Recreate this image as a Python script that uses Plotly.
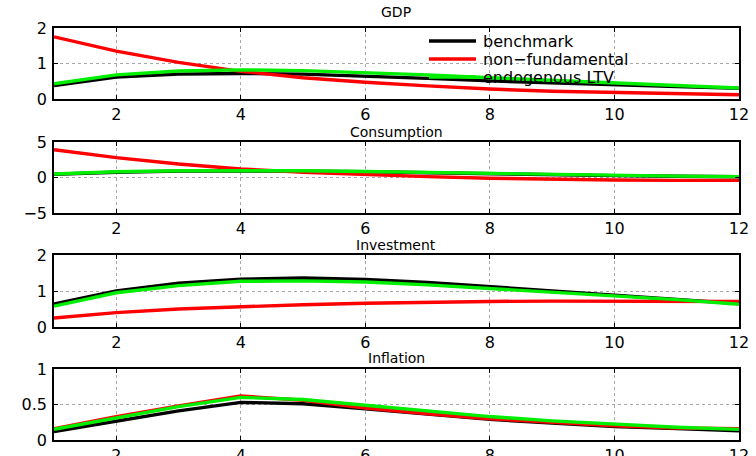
import plotly.graph_objects as go

# Impulse responses, horizons 1..12
horizon = list(range(1, 13))
series_names = ["benchmark", "non\u2212fundamental", "endogenous LTV"]
series_colors = ["#000000", "#ff0000", "#00ee00"]

gdp_bench = [0.38, 0.62, 0.70, 0.72, 0.70, 0.65, 0.58, 0.51, 0.45, 0.40, 0.35, 0.30]
gdp_nonfund = [1.75, 1.35, 1.03, 0.78, 0.60, 0.47, 0.37, 0.28, 0.22, 0.18, 0.15, 0.12]
gdp_ltv = [0.43, 0.68, 0.79, 0.82, 0.80, 0.75, 0.68, 0.60, 0.52, 0.45, 0.38, 0.31]

cons_bench = [0.45, 0.75, 0.90, 0.95, 0.90, 0.80, 0.65, 0.50, 0.38, 0.27, 0.18, 0.10]
cons_nonfund = [3.9, 2.8, 1.9, 1.2, 0.75, 0.40, 0.12, -0.10, -0.25, -0.35, -0.40, -0.40]
cons_ltv = [0.50, 0.80, 0.95, 1.00, 0.95, 0.85, 0.70, 0.55, 0.42, 0.30, 0.20, 0.13]

inv_bench = [0.64, 1.00, 1.22, 1.33, 1.36, 1.32, 1.24, 1.12, 1.00, 0.88, 0.77, 0.65]
inv_nonfund = [0.25, 0.40, 0.50, 0.57, 0.62, 0.66, 0.69, 0.71, 0.72, 0.72, 0.72, 0.71]
inv_ltv = [0.58, 0.95, 1.15, 1.27, 1.28, 1.25, 1.17, 1.07, 0.97, 0.86, 0.76, 0.63]

infl_bench = [0.12, 0.27, 0.41, 0.53, 0.51, 0.44, 0.36, 0.29, 0.24, 0.19, 0.16, 0.13]
infl_nonfund = [0.16, 0.33, 0.48, 0.62, 0.56, 0.45, 0.37, 0.30, 0.25, 0.20, 0.17, 0.16]
infl_ltv = [0.15, 0.31, 0.47, 0.60, 0.57, 0.49, 0.41, 0.33, 0.27, 0.22, 0.18, 0.15]

panel_titles = ["GDP", "Consumption", "Investment", "Inflation"]
panel_data = [
    [gdp_bench, gdp_nonfund, gdp_ltv],
    [cons_bench, cons_nonfund, cons_ltv],
    [inv_bench, inv_nonfund, inv_ltv],
    [infl_bench, infl_nonfund, infl_ltv],
]
y_ranges = [[0, 2], [-5, 5], [0, 2], [0, 1]]
y_ticks = [[0, 1, 2], [-5, 0, 5], [0, 1, 2], [0, 0.5, 1]]
y_ticktext = [["0", "1", "2"], ["\u22125", "0", "5"], ["0", "1", "2"], ["0", "0.5", "1"]]
x_ticks = [2, 4, 6, 8, 10, 12]

W, H = 756, 456
x_left, x_right = 54, 739
panel_px = [(28, 99), (142, 213), (255, 327), (369, 440)]
title_px = [12, 132, 245, 358]

FONT = "DejaVu Sans, Arial, sans-serif"
TICK_FONT = dict(size=16, family=FONT, color="black")

fig = go.Figure()
layout = dict(
    width=W, height=H,
    margin=dict(l=0, r=0, t=0, b=0, autoexpand=False),
    paper_bgcolor="white", plot_bgcolor="white",
    showlegend=False,
    font=dict(family=FONT, color="black"),
)

annotations = []
shapes = []
for i in range(4):
    n = "" if i == 0 else str(i + 1)
    top, bot = panel_px[i]
    common = dict(
        showgrid=True, gridcolor="#a8a8a8", griddash="dot", gridwidth=1,
        showline=True, linecolor="black", linewidth=1.5, mirror="ticks",
        ticks="inside", ticklen=4, tickcolor="black", tickwidth=1,
        tickfont=TICK_FONT, zeroline=False, automargin=False,
    )
    layout["xaxis" + n] = dict(
        domain=[x_left / W, x_right / W], range=[1, 12], tickvals=x_ticks,
        anchor="y" + n, ticklabelstandoff=0, **common,
    )
    layout["yaxis" + n] = dict(
        domain=[1 - bot / H, 1 - top / H], range=y_ranges[i],
        tickvals=y_ticks[i], ticktext=y_ticktext[i],
        anchor="x" + n, ticklabelstandoff=2, **common,
    )
    for j in range(3):
        fig.add_trace(go.Scatter(
            x=horizon, y=panel_data[i][j], mode="lines",
            name=series_names[j],
            line=dict(color=series_colors[j], width=3.4),
            xaxis="x" + n, yaxis="y" + n,
        ))
    annotations.append(dict(
        text=panel_titles[i], x=(x_left + x_right) / 2 / W, y=1 - title_px[i] / H,
        xref="paper", yref="paper", showarrow=False,
        xanchor="center", yanchor="middle",
        font=dict(size=14, family=FONT, color="black"),
    ))

# Legend in the GDP panel: short line sample followed by the series name
legend_rows = [41, 59, 77]
for j in range(3):
    yp = 1 - legend_rows[j] / H
    shapes.append(dict(
        type="line", xref="paper", yref="paper",
        x0=429 / W, x1=476 / W, y0=yp, y1=yp,
        line=dict(color=series_colors[j], width=3.4),
    ))
    annotations.append(dict(
        text=series_names[j], x=481 / W, y=yp,
        xref="paper", yref="paper", showarrow=False,
        xanchor="left", yanchor="middle",
        font=dict(size=16, family=FONT, color="black"),
    ))

layout["annotations"] = annotations
layout["shapes"] = shapes
fig.update_layout(**layout)
fig.write_html("out.html")
